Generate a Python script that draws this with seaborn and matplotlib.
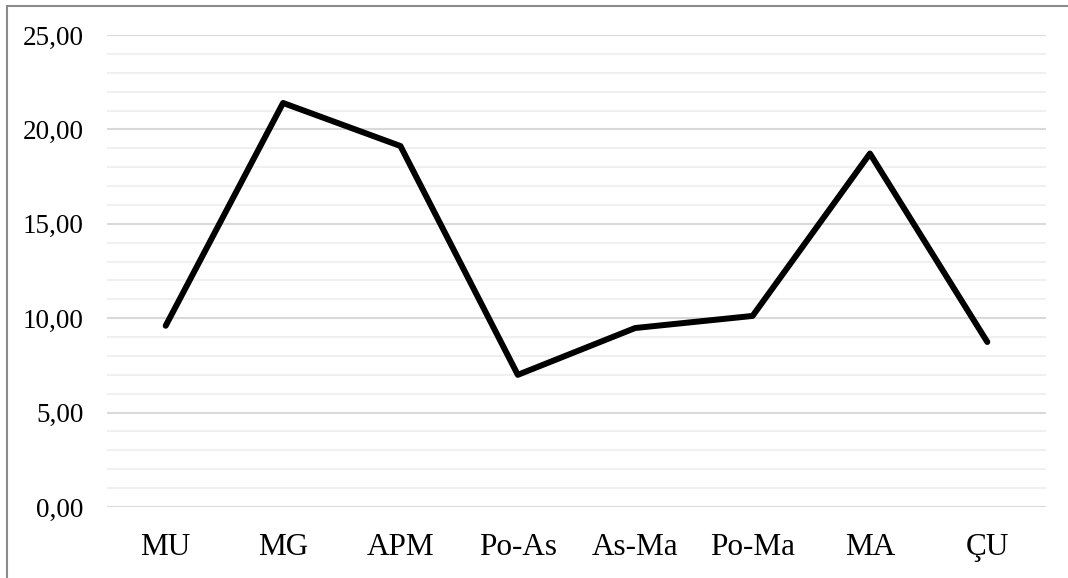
import matplotlib
matplotlib.use("Agg")
import matplotlib.pyplot as plt
from matplotlib.patches import Rectangle
from matplotlib.ticker import MultipleLocator, FuncFormatter
import seaborn as sns
import pandas as pd

categories = ["MU", "MG", "APM", "Po-As", "As-Ma", "Po-Ma", "MA", "ÇU"]
values = [9.60, 21.40, 19.12, 7.00, 9.48, 10.12, 18.72, 8.74]

sns.set_theme(style="white")
plt.rcParams["font.family"] = ["Liberation Serif", "DejaVu Serif"]

df = pd.DataFrame({"group": categories, "value": values})

fig = plt.figure(figsize=(10.68, 5.78), dpi=100)
ax = fig.add_axes([107 / 1068, 1 - 507 / 578, 939 / 1068, 472 / 578])

sns.lineplot(data=df, x="group", y="value", ax=ax, color="black",
             linewidth=4.3, sort=False, zorder=3,
             solid_joinstyle="round", solid_capstyle="round")

ax.set_xlim(-0.5, len(categories) - 0.5)
ax.set_ylim(0, 25)
ax.yaxis.set_major_locator(MultipleLocator(5))
ax.yaxis.set_minor_locator(MultipleLocator(1))
ax.yaxis.set_major_formatter(FuncFormatter(lambda v, _: f"{v:.2f}".replace(".", ",")))

ax.grid(axis="y", which="major", color="#d9d9d9", linewidth=1.5, zorder=0)
ax.grid(axis="y", which="minor", color="#f0f0f0", linewidth=1.5, zorder=0)
ax.grid(axis="x", visible=False)
ax.set_axisbelow(True)

for side in ["top", "right", "left", "bottom"]:
    ax.spines[side].set_visible(False)

ax.tick_params(axis="y", which="both", length=0, labelsize=19.5, pad=17,
               labelcolor="black")
ax.tick_params(axis="x", length=0, labelsize=22.5, pad=18.5, labelcolor="black")
ax.set_xlabel("")
ax.set_ylabel("")

# chart-area frame (top and left edges visible)
fig.add_artist(Rectangle((7 / 1068, -0.05), 1.2, 1 - 6 / 578 + 0.05,
                         transform=fig.transFigure, fill=False,
                         edgecolor="#8c8c8c", linewidth=1.5))

fig.savefig("out.png", dpi=100, facecolor="white")
